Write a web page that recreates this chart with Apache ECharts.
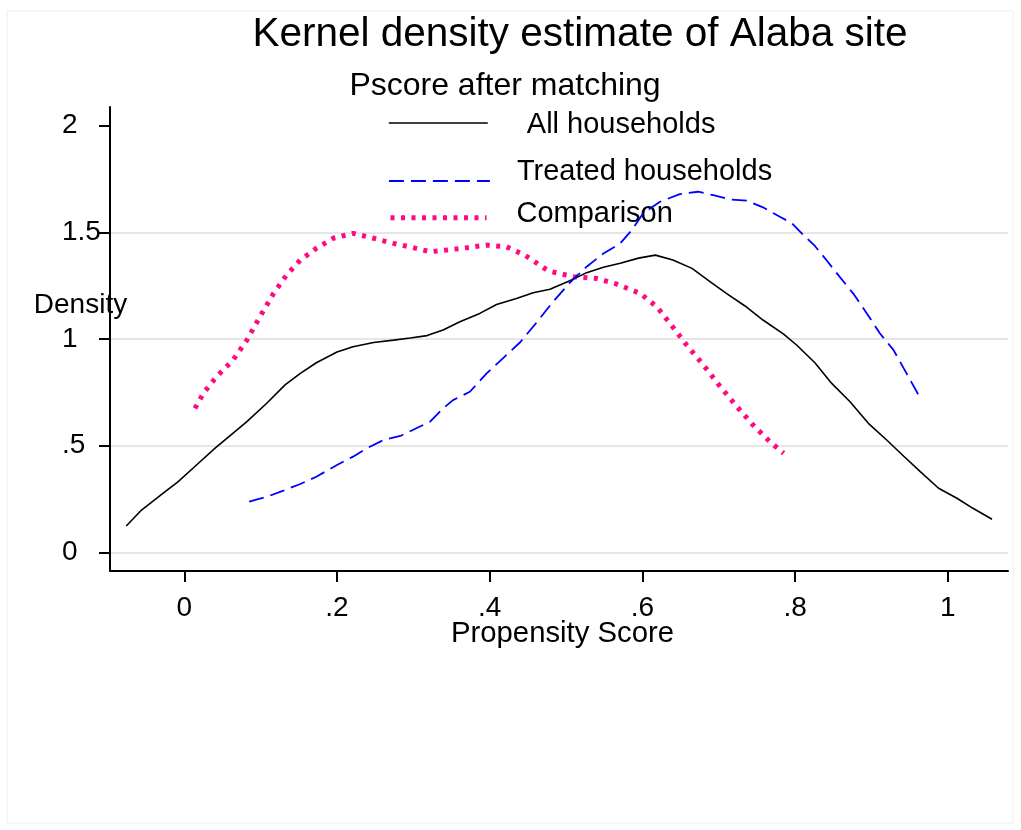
<!DOCTYPE html>
<html>
<head>
<meta charset="utf-8">
<script src="https://cdn.jsdelivr.net/npm/echarts@6/dist/echarts.min.js"></script>
<style>
html,body{margin:0;padding:0;background:#fff;}
#chart{width:1021px;height:830px;}
</style>
</head>
<body>
<div id="chart"></div>
<script>
// ---- data ----
const titleText = 'Kernel density estimate of Alaba site';
const subtitleText = 'Pscore after matching';
const xAxisName = 'Propensity Score';
const yAxisName = 'Density';
const xTicks = [0, 0.2, 0.4, 0.6, 0.8, 1];
const yTicks = [0, 0.5, 1, 1.5, 2];
const seriesNames = ['All households', 'Treated households', 'Comparison'];

const allX = [-0.076, -0.056, -0.028, -0.008, 0.016, 0.040, 0.082, 0.108, 0.132, 0.152, 0.173, 0.200, 0.221, 0.248, 0.274, 0.296, 0.318, 0.339, 0.361, 0.387, 0.409, 0.435, 0.457, 0.479, 0.505, 0.527, 0.549, 0.571, 0.595, 0.617, 0.640, 0.665, 0.689, 0.710, 0.734, 0.758, 0.785, 0.802, 0.826, 0.848, 0.872, 0.896, 0.920, 0.942, 0.964, 0.988, 1.012, 1.033, 1.058];
const allY = [0.124, 0.199, 0.277, 0.332, 0.410, 0.488, 0.613, 0.699, 0.785, 0.839, 0.889, 0.939, 0.964, 0.984, 0.995, 1.005, 1.016, 1.042, 1.081, 1.120, 1.162, 1.190, 1.217, 1.233, 1.273, 1.311, 1.336, 1.355, 1.379, 1.393, 1.370, 1.331, 1.268, 1.214, 1.156, 1.089, 1.023, 0.972, 0.889, 0.792, 0.706, 0.605, 0.527, 0.452, 0.379, 0.301, 0.254, 0.207, 0.156];

const treatedX = [0.085, 0.108, 0.130, 0.152, 0.173, 0.200, 0.221, 0.239, 0.261, 0.283, 0.304, 0.322, 0.339, 0.352, 0.374, 0.396, 0.418, 0.440, 0.462, 0.483, 0.505, 0.527, 0.549, 0.571, 0.586, 0.601, 0.623, 0.649, 0.673, 0.693, 0.715, 0.737, 0.758, 0.780, 0.796, 0.811, 0.826, 0.841, 0.859, 0.876, 0.894, 0.911, 0.929, 0.946, 0.963];
const treatedY = [0.238, 0.261, 0.290, 0.321, 0.355, 0.410, 0.449, 0.488, 0.527, 0.546, 0.582, 0.613, 0.675, 0.714, 0.753, 0.839, 0.912, 0.985, 1.080, 1.175, 1.264, 1.339, 1.401, 1.448, 1.510, 1.589, 1.643, 1.679, 1.690, 1.674, 1.654, 1.648, 1.617, 1.573, 1.542, 1.487, 1.436, 1.370, 1.289, 1.214, 1.120, 1.027, 0.948, 0.839, 0.730];

const compX = [0.014, 0.025, 0.042, 0.064, 0.082, 0.099, 0.117, 0.134, 0.152, 0.173, 0.195, 0.221, 0.248, 0.274, 0.300, 0.322, 0.344, 0.370, 0.396, 0.422, 0.446, 0.477, 0.510, 0.540, 0.566, 0.597, 0.619, 0.636, 0.658, 0.680, 0.702, 0.724, 0.745, 0.767, 0.785];
const compY = [0.675, 0.746, 0.823, 0.902, 0.995, 1.104, 1.214, 1.300, 1.370, 1.425, 1.472, 1.495, 1.472, 1.448, 1.428, 1.409, 1.417, 1.428, 1.440, 1.432, 1.393, 1.319, 1.292, 1.284, 1.258, 1.214, 1.151, 1.074, 0.972, 0.878, 0.777, 0.683, 0.597, 0.519, 0.465];

// ---- build ----
const pairs = (xs, ys) => xs.map((x, i) => [x, ys[i]]);
const fmt = v => {
  let s = String(+v.toFixed(2));
  if (s.startsWith('0.')) s = s.slice(1);
  return s;
};
const FONT = '"Liberation Sans", Arial, Helvetica, sans-serif';
const COLORS = ['#000000', '#0000ff', '#ff0a80'];
const LINE_STYLES = [
  {color: COLORS[0], width: 1.6, type: 'solid'},
  {color: COLORS[1], width: 1.8, type: [15, 7]},
  {color: COLORS[2], width: 5, type: [4, 6.5]}
];

const chart = echarts.init(document.getElementById('chart'), null, {renderer: 'canvas'});

// each legend entry is its own legend so it can sit exactly where the reference puts it
function legendFor(idx, top, itemWidth, padLeft, shiftTemplate) {
  return {
    show: true,
    data: [seriesNames[idx]],
    orient: 'vertical',
    left: 388,
    top: top,
    padding: 0,
    itemWidth: itemWidth,
    itemHeight: 60,
    selectedMode: false,
    lineStyle: LINE_STYLES[idx],
    itemStyle: {color: 'rgba(0,0,0,0)', borderColor: 'rgba(0,0,0,0)', borderWidth: 0, opacity: 0},
    formatter: name => shiftTemplate.replace('NAME', name),
    textStyle: {
      fontFamily: FONT, fontSize: 29, color: '#000', padding: [0, 0, 0, padLeft],
      rich: {
        a: {fontFamily: FONT, fontSize: 29, color: '#000', lineHeight: 30},
        s4: {fontSize: 4, lineHeight: 4},
        s7: {fontSize: 7, lineHeight: 7},
        s18: {fontSize: 18, lineHeight: 18}
      }
    }
  };
}

const option = {
  backgroundColor: '#fff',
  animation: false,
  graphic: [
    {type: 'rect', silent: true, shape: {x: 7, y: 11, width: 1006, height: 812},
     style: {fill: 'none', stroke: '#eeeeee', lineWidth: 1}},
    {type: 'text', silent: true, x: 580, y: 35,
     style: {text: titleText, fontFamily: FONT, fontSize: 40.5, fill: '#000', textAlign: 'center', textVerticalAlign: 'middle'}},
    {type: 'text', silent: true, x: 505, y: 86,
     style: {text: subtitleText, fontFamily: FONT, fontSize: 32, fill: '#000', textAlign: 'center', textVerticalAlign: 'middle'}},
    {type: 'text', silent: true, x: 80.5, y: 305, z: 10,
     style: {text: yAxisName, fontFamily: FONT, fontSize: 28, fill: '#000', textAlign: 'center', textVerticalAlign: 'middle'}}
  ],
  legend: [
    legendFor(0, 99, 99, 34, '{s4| }\n{a|NAME}'),
    legendFor(1, 157, 101, 22, '{a|NAME}\n{s18| }'),
    legendFor(2, 193.7, 96, 25, '{a|NAME}\n{s7| }')
  ],
  grid: {left: 110, right: 13, top: 107, bottom: 259, containLabel: false, outerBoundsMode: 'none'},
  xAxis: {
    type: 'value',
    min: -0.0973,
    max: 1.0789,
    name: xAxisName,
    nameLocation: 'middle',
    nameGap: 48,
    nameMoveOverlap: false,
    nameTextStyle: {fontFamily: FONT, fontSize: 29.3, color: '#000', padding: [0, 0, 0, 7]},
    axisLine: {show: true, onZero: false, lineStyle: {color: '#000', width: 2}},
    axisTick: {show: true, inside: false, length: 11, customValues: xTicks, lineStyle: {color: '#000', width: 2}},
    axisLabel: {show: true, customValues: xTicks, margin: 23, fontFamily: FONT, fontSize: 28, color: '#000', formatter: fmt},
    splitLine: {show: false}
  },
  yAxis: {
    type: 'value',
    min: -0.0867,
    max: 2.087,
    axisLine: {show: true, onZero: false, lineStyle: {color: '#000', width: 2}},
    axisTick: {show: true, inside: false, length: 11, customValues: yTicks, lineStyle: {color: '#000', width: 2}},
    axisLabel: {show: true, customValues: yTicks, margin: 48, align: 'left', fontFamily: FONT, fontSize: 28, color: '#000', formatter: fmt},
    splitLine: {show: true, lineStyle: {color: ['#e6e6e6', '#e6e6e6', '#e6e6e6', '#e6e6e6', 'rgba(0,0,0,0)'], width: 2}}
  },
  series: seriesNames.map((name, i) => ({
    name: name,
    type: 'line',
    data: [pairs(allX, allY), pairs(treatedX, treatedY), pairs(compX, compY)][i],
    symbol: 'none',
    showSymbol: false,
    smooth: false,
    z: [3, 4, 2][i],
    lineStyle: LINE_STYLES[i],
    itemStyle: {color: COLORS[i]}
  }))
};
chart.setOption(option);
</script>
</body>
</html>
